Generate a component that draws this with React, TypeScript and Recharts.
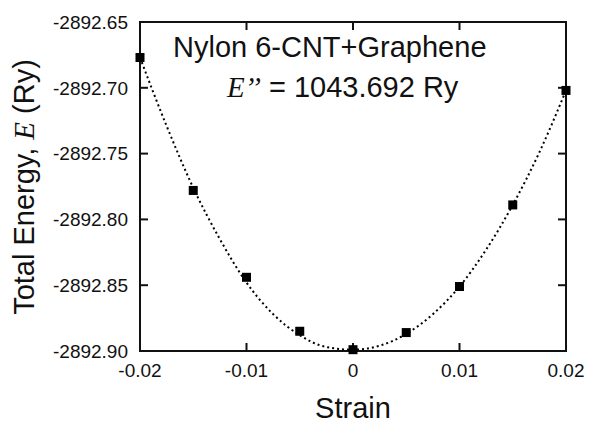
import { ComposedChart, Customized, Line, ReferenceArea, Scatter, XAxis, YAxis } from 'recharts'

// computed energies (Ry) vs applied strain
const strains = [-0.02, -0.015, -0.01, -0.005, 0, 0.005, 0.01, 0.015, 0.02]
const energies = [
  -2892.677, -2892.778, -2892.844, -2892.885, -2892.899, -2892.886, -2892.851, -2892.789, -2892.702,
]

// dotted fit curve
const fitStrains = [
  -0.02, -0.0175, -0.015, -0.0125, -0.01, -0.0075, -0.005, -0.0025, 0, 0.0025, 0.005, 0.0075, 0.01,
  0.0125, 0.015, 0.0175, 0.02,
]
const fitEnergies = [
  -2892.677, -2892.729, -2892.776, -2892.815, -2892.848, -2892.872, -2892.888, -2892.897, -2892.899,
  -2892.896, -2892.887, -2892.872, -2892.851, -2892.823, -2892.789, -2892.749, -2892.702,
]

const xTicks = [-0.02, -0.01, 0, 0.01, 0.02]
const yTicks = [-2892.9, -2892.85, -2892.8, -2892.75, -2892.7, -2892.65]
const xRange = [-0.02, 0.02]
const yRange = [-2892.9, -2892.65]

const points = strains.map((s, i) => ({ strain: s, e: energies[i] }))
const fit = fitStrains.map((s, i) => ({ strain: s, e: fitEnergies[i] }))

const sans = 'Liberation Sans, Arial, Helvetica, sans-serif'
const serif = 'Liberation Serif, Times New Roman, serif'
const ink = '#111'
const frame = { stroke: ink, strokeWidth: 2 }
const tickStyle = { fill: ink, fontSize: 19, fontFamily: sans }

const Square = (props: any) => (
  <rect x={props.cx - 4.5} y={props.cy - 4.5} width={9} height={9} fill="#000" />
)

// frame axes: tick marks only, no labels
const NoLabel = () => <g />

// title, fit annotation and axis titles
const Texts = () => (
  <g>
    <text x={173} y={57} fontSize={29} fontFamily={sans} fill={ink}>
      Nylon 6-CNT+Graphene
    </text>
    <text x={227} y={97} fontSize={29} fontFamily={sans} fill={ink}>
      <tspan fontFamily={serif} fontStyle="italic">E’’</tspan>
      <tspan> = 1043.692 Ry</tspan>
    </text>
    <text x={353} y={418} fontSize={29} fontFamily={sans} fill={ink} textAnchor="middle">
      Strain
    </text>
    <text
      x={34}
      y={187}
      fontSize={29}
      fontFamily={sans}
      fill={ink}
      textAnchor="middle"
      transform="rotate(-90, 34, 187)"
    >
      Total Energy, <tspan fontFamily={serif} fontStyle="italic">E</tspan> (Ry)
    </text>
  </g>
)

export default function App() {
  return (
    <div style={{ position: 'absolute', left: 0, top: 0, width: 589, height: 423, background: '#fff' }}>
      <ComposedChart
        width={589}
        height={423}
        margin={{ top: 12, right: 13, bottom: 32, left: 30 }}
      >
        <XAxis
          xAxisId="bottom"
          dataKey="strain"
          type="number"
          domain={xRange}
          ticks={xTicks}
          height={40}
          tickSize={-8}
          tickMargin={21}
          axisLine={frame}
          tickLine={frame}
          tick={tickStyle}
          tickFormatter={(v: number) => (v === 0 ? '0' : v.toFixed(2))}
        />
        <XAxis
          xAxisId="top"
          orientation="top"
          dataKey="strain"
          type="number"
          domain={xRange}
          ticks={xTicks}
          height={10}
          tickSize={-8}
          axisLine={frame}
          tickLine={frame}
          tick={NoLabel}
        />
        <YAxis
          yAxisId="left"
          dataKey="e"
          type="number"
          domain={yRange}
          ticks={yTicks}
          width={110}
          tickSize={-8}
          tickMargin={20}
          axisLine={frame}
          tickLine={frame}
          tick={tickStyle}
          tickFormatter={(v: number) => v.toFixed(2)}
        />
        <YAxis
          yAxisId="right"
          orientation="right"
          dataKey="e"
          type="number"
          domain={yRange}
          ticks={yTicks}
          width={10}
          tickSize={-8}
          axisLine={frame}
          tickLine={frame}
          tick={NoLabel}
        />
        {/* plot frame */}
        <ReferenceArea
          xAxisId="bottom"
          yAxisId="left"
          x1={xRange[0]}
          x2={xRange[1]}
          y1={yRange[0]}
          y2={yRange[1]}
          fill="none"
          stroke={ink}
          strokeWidth={2}
        />
        {/* transparent series so the top/right frame axes are in use */}
        <Line
          xAxisId="top"
          yAxisId="right"
          data={fit}
          dataKey="e"
          stroke="transparent"
          dot={false}
          activeDot={false}
          isAnimationActive={false}
        />
        <Line
          xAxisId="bottom"
          yAxisId="left"
          data={fit}
          dataKey="e"
          type="monotone"
          stroke="#000"
          strokeWidth={2}
          strokeDasharray="2 3"
          dot={false}
          activeDot={false}
          isAnimationActive={false}
        />
        <Scatter
          xAxisId="bottom"
          yAxisId="left"
          data={points}
          dataKey="e"
          shape={Square}
          isAnimationActive={false}
        />
        <Customized component={Texts} />
      </ComposedChart>
    </div>
  )
}
